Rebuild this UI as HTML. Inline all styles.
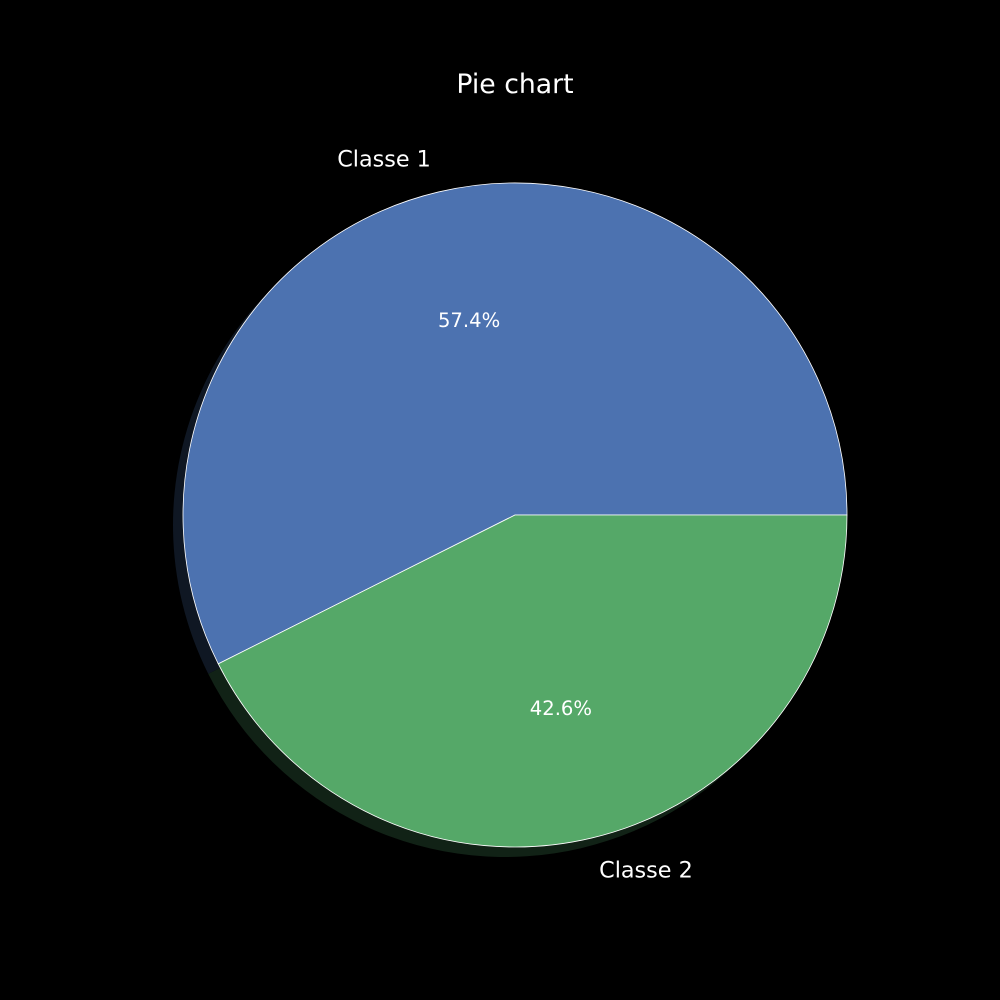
<!DOCTYPE html>
<html><head><meta charset="utf-8"><style>
html,body{margin:0;padding:0;background:#000;}
svg{display:block;font-family:"DejaVu Sans","Liberation Sans",sans-serif;}
</style></head><body>
<svg id="chart" width="1000" height="1000" viewBox="0 0 1000 1000">
<rect width="1000" height="1000" fill="#000"/>
<text x="515" y="93" font-size="26.7" fill="#fff" text-anchor="middle">Pie chart</text>
<g id="shadows"></g>
<g id="slices"></g>
<g id="labels"></g>
</svg>
<script>
const categories = ["Classe 1", "Classe 2"];
const values = [57.4, 42.6];
const colors = ["#4c72b0", "#55a868"];
const shadowColors = ["#0f1723", "#112216"];

const cx = 515, cy = 515, R = 332;
const NS = "http://www.w3.org/2000/svg";
const total = values.reduce((a, b) => a + b, 0);
function pt(ox, oy, r, deg) {
  const a = deg * Math.PI / 180;
  return [ox + r * Math.cos(a), oy - r * Math.sin(a)];
}
function arcPath(ox, oy, a0, a1) {
  const p0 = pt(ox, oy, R, a0), p1 = pt(ox, oy, R, a1);
  const large = (a1 - a0) > 180 ? 1 : 0;
  return `M${ox},${oy} L${p0[0]},${p0[1]} A${R},${R} 0 ${large} 0 ${p1[0]},${p1[1]} Z`;
}
const sh = document.getElementById("shadows");
const sl = document.getElementById("slices");
const lb = document.getElementById("labels");
let start = 0;
values.forEach((v, i) => {
  const sweep = v / total * 360;
  const end = start + sweep;
  const mid = (start + end) / 2;
  const s = document.createElementNS(NS, "path");
  s.setAttribute("d", arcPath(cx - 10, cy + 10, start, end));
  s.setAttribute("fill", shadowColors[i]);
  
  
  sh.appendChild(s);
  const p = document.createElementNS(NS, "path");
  p.setAttribute("d", arcPath(cx, cy, start, end));
  p.setAttribute("fill", colors[i]);
  p.setAttribute("stroke", "#ffffff");
  p.setAttribute("stroke-width", "0.8");
  
  
  sl.appendChild(p);
  const lp = pt(cx, cy, R * 1.1, mid);
  const t = document.createElementNS(NS, "text");
  t.setAttribute("x", lp[0]);
  t.setAttribute("y", lp[1] + 7);
  t.setAttribute("font-size", "22.3");
  t.setAttribute("fill", "#fff");
  t.setAttribute("text-anchor", Math.cos(mid * Math.PI / 180) < 0 ? "end" : "start");
  t.textContent = categories[i];
  
  
  lb.appendChild(t);
  const pp = pt(cx, cy, R * 0.6, mid);
  const u = document.createElementNS(NS, "text");
  u.setAttribute("x", pp[0]);
  u.setAttribute("y", pp[1] + 6);
  u.setAttribute("font-size", "19.6");
  u.setAttribute("fill", "#fff");
  u.setAttribute("text-anchor", "middle");
  u.textContent = v.toFixed(1) + "%";
  
  
  lb.appendChild(u);
  start = end;
});
</script>
</body></html>
